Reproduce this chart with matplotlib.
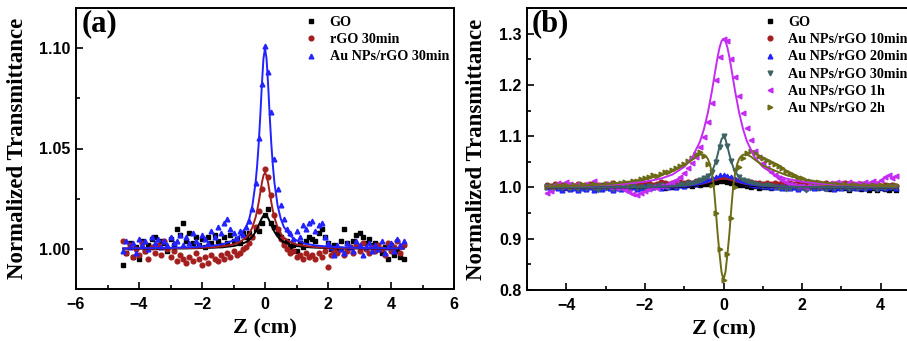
import numpy as np
import matplotlib
matplotlib.use("Agg")
import matplotlib.pyplot as plt
from matplotlib.ticker import MultipleLocator, FormatStrFormatter

# ---------------- data ----------------
# scan positions (cm), regular 0.1 cm steps from -4.5 to 4.4
z = np.round(np.arange(-4.5, 4.45, 0.1), 2)

# panel (a) measured points
a_go = [0.992, 0.998, 1.003, 0.996, 1.001, 0.995, 1.004, 0.999, 1.002, 1.005,
        1.006, 1.001, 1.004, 1.003, 0.999, 1.005, 1.002, 1.010, 1.007, 1.013,
        1.004, 1.008, 1.003, 1.006, 1.002, 1.005, 1.001, 1.006, 1.003, 1.007,
        1.004, 1.002, 1.006, 1.003, 1.007, 1.004, 1.005, 1.003, 1.008, 1.006,
        1.008, 1.006, 1.010, 1.009, 1.013, 1.017, 1.020, 1.013, 1.011, 1.008,
        1.006, 1.003, 1.004, 1.001, 1.002, 0.999, 1.003, 1.001, 1.004, 1.006,
        1.005, 1.004, 1.008, 1.010, 1.006, 1.003, 1.000, 1.002, 0.999, 1.004,
        1.010, 1.003, 1.001, 1.004, 1.007, 1.008, 1.006, 1.003, 1.005, 1.002,
        1.003, 1.000, 0.998, 1.001, 0.995, 1.002, 0.997, 0.999, 0.996, 0.995]
a_rgo = [1.004, 0.998, 1.002, 0.996, 1.000, 0.997, 1.003, 0.999, 0.995, 1.001,
         0.998, 1.002, 0.997, 1.004, 1.000, 0.996, 0.999, 0.994, 0.997, 0.995,
         0.993, 0.996, 0.994, 0.998, 0.995, 0.992, 0.996, 0.993, 0.997, 0.995,
         0.994, 0.997, 0.995, 0.998, 0.996, 0.999, 0.997, 0.998, 1.000, 1.001,
         1.003, 1.006, 1.011, 1.019, 1.030, 1.040, 1.036, 1.027, 1.017, 1.010,
         1.005, 1.002, 1.000, 0.998, 0.999, 0.996, 0.997, 0.995, 0.998, 0.996,
         0.997, 0.995, 0.998, 0.996, 0.999, 0.991, 0.997, 0.999, 0.998, 1.000,
         0.997, 0.999, 1.001, 0.998, 1.002, 0.999, 1.003, 1.000, 0.998, 1.001,
         0.999, 1.002, 1.000, 0.997, 1.003, 0.999, 1.001, 1.004, 0.998, 1.002]
a_au = [0.999, 1.004, 1.001, 1.003, 0.998, 1.005, 1.002, 1.004, 1.000, 1.006,
        1.003, 1.005, 1.001, 1.004, 1.002, 1.006, 1.003, 1.004, 1.007, 1.002,
        1.006, 1.003, 1.008, 1.004, 1.002, 1.007, 1.005, 1.003, 1.009, 1.006,
        1.011, 1.008, 1.013, 1.015, 1.010, 1.008, 1.005, 1.009, 1.007, 1.011,
        1.014, 1.020, 1.033, 1.055, 1.082, 1.101, 1.088, 1.068, 1.045, 1.030,
        1.022, 1.015, 1.010, 1.008, 1.005, 1.009, 1.006, 1.012, 1.010, 1.013,
        1.014, 1.009, 1.012, 1.013, 1.006, 1.003, 1.001, 0.997, 1.002, 1.000,
        0.998, 1.003, 1.001, 0.999, 1.004, 1.002, 0.997, 1.001, 1.003, 0.999,
        1.002, 1.000, 1.004, 0.998, 1.001, 1.003, 0.999, 1.005, 1.002, 1.004]

# fit curves
fz = [-4.5, -4, -3.5, -3, -2.5, -2, -1.6, -1.3, -1, -0.8, -0.6, -0.5, -0.4, -0.3,
      -0.25, -0.2, -0.15, -0.1, -0.05, 0, 0.05, 0.1, 0.15, 0.2, 0.25, 0.3, 0.4,
      0.5, 0.6, 0.8, 1, 1.3, 1.6, 2, 2.5, 3, 3.5, 4, 4.4]
fa_go = [1.0001, 1.0001, 1.0001, 1.0002, 1.0002, 1.0004, 1.0006, 1.0009, 1.0014, 1.0021,
         1.0034, 1.0045, 1.0061, 1.0085, 1.0100, 1.0118, 1.0136, 1.0153, 1.0165, 1.0170,
         1.0165, 1.0153, 1.0136, 1.0118, 1.0100, 1.0085, 1.0061, 1.0045, 1.0034, 1.0021,
         1.0014, 1.0009, 1.0006, 1.0004, 1.0002, 1.0002, 1.0001, 1.0001, 1.0001]
fa_rgo = [1.0002, 1.0002, 1.0002, 1.0003, 1.0004, 1.0006, 1.0009, 1.0014, 1.0022, 1.0034,
          1.0056, 1.0076, 1.0107, 1.0156, 1.0190, 1.0232, 1.0279, 1.0328, 1.0365, 1.0380,
          1.0365, 1.0328, 1.0279, 1.0232, 1.0190, 1.0156, 1.0107, 1.0076, 1.0056, 1.0034,
          1.0022, 1.0014, 1.0009, 1.0006, 1.0004, 1.0003, 1.0002, 1.0002, 1.0002]
fa_au = [1.0002, 1.0003, 1.0004, 1.0005, 1.0007, 1.0011, 1.0017, 1.0025, 1.0042, 1.0065,
         1.0109, 1.0150, 1.0216, 1.0329, 1.0414, 1.0524, 1.0662, 1.0815, 1.0946, 1.1000,
         1.0946, 1.0815, 1.0662, 1.0524, 1.0414, 1.0329, 1.0216, 1.0150, 1.0109, 1.0065,
         1.0042, 1.0025, 1.0017, 1.0011, 1.0007, 1.0005, 1.0004, 1.0003, 1.0002]

# panel (b) measured points
b_go = [1.003, 0.999, 1.002, 1.000, 1.004, 0.998, 1.001, 1.003, 0.999, 1.002,
        1.000, 1.004, 0.998, 1.002, 1.005, 1.001, 0.999, 1.003, 1.000, 1.006,
        1.002, 0.999, 1.004, 1.001, 1.003, 0.998, 1.002, 1.000, 1.004, 1.001,
        0.999, 1.003, 1.001, 1.000, 1.004, 1.002, 1.005, 1.003, 1.006, 1.004,
        1.007, 1.006, 1.009, 1.010, 1.012, 1.013, 1.011, 1.009, 1.007, 1.005,
        1.004, 1.003, 1.001, 1.002, 0.999, 1.001, 1.000, 0.998, 1.002, 1.000,
        1.001, 0.999, 1.002, 1.000, 0.998, 1.001, 0.999, 1.002, 1.000, 0.998,
        1.001, 0.999, 0.997, 1.000, 0.998, 1.001, 0.999, 0.996, 0.998, 1.000,
        0.997, 0.999, 0.995, 0.998, 0.996, 0.999, 0.997, 0.995, 0.998, 0.996]
b_10 = [1.005, 1.002, 1.006, 1.003, 1.004, 1.001, 1.005, 1.003, 1.006, 1.002,
        1.004, 1.007, 1.003, 1.005, 1.002, 1.006, 1.004, 1.008, 1.005, 1.003,
        1.006, 1.004, 1.007, 1.005, 1.009, 1.006, 1.008, 1.005, 1.007, 1.010,
        1.008, 1.006, 1.009, 1.007, 1.010, 1.008, 1.011, 1.009, 1.012, 1.010,
        1.013, 1.012, 1.015, 1.017, 1.019, 1.020, 1.018, 1.016, 1.014, 1.012,
        1.011, 1.009, 1.010, 1.008, 1.009, 1.007, 1.008, 1.006, 1.009, 1.007,
        1.008, 1.006, 1.009, 1.007, 1.010, 1.006, 1.008, 1.005, 1.007, 1.009,
        1.006, 1.008, 1.005, 1.007, 1.004, 1.006, 1.008, 1.005, 1.007, 1.004,
        1.006, 1.003, 1.005, 1.004, 1.006, 1.003, 1.005, 1.002, 1.004, 1.003]
b_20 = [1.000, 0.997, 1.001, 0.998, 0.996, 1.000, 0.997, 0.999, 0.995, 0.998,
        0.997, 1.000, 0.996, 0.999, 0.997, 1.001, 0.998, 0.996, 0.999, 0.997,
        1.000, 0.998, 1.001, 0.997, 0.999, 1.002, 0.998, 1.000, 1.003, 0.999,
        1.002, 1.000, 1.004, 1.001, 1.005, 1.003, 1.006, 1.008, 1.007, 1.010,
        1.012, 1.015, 1.018, 1.021, 1.024, 1.025, 1.023, 1.020, 1.017, 1.013,
        1.010, 1.008, 1.006, 1.004, 1.005, 1.002, 1.003, 1.001, 1.000, 1.002,
        0.999, 1.001, 0.998, 1.000, 0.997, 1.001, 0.999, 1.002, 0.998, 1.000,
        1.001, 0.998, 1.000, 0.997, 1.001, 0.999, 1.002, 0.998, 1.000, 0.999,
        1.001, 0.998, 1.000, 1.002, 0.999, 1.001, 0.998, 1.000, 1.002, 0.999]
b_30 = [1.002, 0.999, 1.003, 1.000, 0.998, 1.002, 0.999, 1.001, 0.997, 1.000,
        0.998, 1.002, 0.999, 0.996, 1.001, 0.998, 1.000, 0.997, 1.001, 0.999,
        1.000, 0.998, 1.002, 0.999, 1.001, 0.998, 1.003, 1.000, 1.002, 1.004,
        1.003, 1.001, 1.005, 1.003, 1.006, 1.004, 1.008, 1.007, 1.011, 1.014,
        1.018, 1.022, 1.030, 1.050, 1.078, 1.100, 1.080, 1.052, 1.032, 1.021,
        1.015, 1.012, 1.008, 1.006, 1.004, 1.003, 1.005, 1.002, 1.000, 0.998,
        1.001, 0.997, 0.999, 1.002, 0.998, 1.000, 0.996, 0.999, 1.001, 0.998,
        1.000, 0.997, 1.001, 0.999, 1.002, 0.998, 1.000, 0.997, 1.001, 0.999,
        1.001, 0.998, 1.002, 1.000, 0.997, 1.001, 0.999, 1.002, 1.000, 1.001]
b_1h = [0.989, 0.993, 1.004, 1.008, 1.003, 1.010, 1.006, 1.002, 1.007, 1.004,
        1.006, 1.003, 1.012, 1.005, 1.002, 1.006, 1.000, 1.004, 0.998, 1.001,
        0.996, 0.992, 0.988, 0.986, 0.990, 0.994, 0.997, 1.000, 0.998, 1.003,
        1.002, 1.006, 1.010, 1.015, 1.021, 1.028, 1.038, 1.047, 1.060, 1.078,
        1.098, 1.128, 1.165, 1.210, 1.255, 1.290, 1.285, 1.250, 1.215, 1.178,
        1.145, 1.115, 1.092, 1.072, 1.060, 1.048, 1.038, 1.030, 1.024, 1.018,
        1.014, 1.010, 1.007, 1.004, 1.002, 1.003, 1.001, 1.004, 1.006, 1.003,
        1.007, 1.005, 1.009, 1.006, 1.010, 1.008, 1.005, 1.011, 1.007, 1.009,
        1.006, 1.010, 1.008, 1.012, 1.009, 1.015, 1.020, 1.024, 1.018, 1.022]
b_2h = [1.001, 1.003, 1.000, 1.004, 1.002, 1.005, 1.001, 1.004, 1.003, 1.006,
        1.004, 1.002, 1.006, 1.005, 1.003, 1.007, 1.005, 1.008, 1.006, 1.009,
        1.011, 1.009, 1.013, 1.012, 1.016, 1.018, 1.020, 1.024, 1.022, 1.027,
        1.031, 1.030, 1.035, 1.038, 1.041, 1.045, 1.052, 1.058, 1.066, 1.070,
        1.062, 1.045, 1.005, 0.950, 0.880, 0.820, 0.870, 0.940, 1.000, 1.040,
        1.058, 1.067, 1.071, 1.068, 1.062, 1.057, 1.053, 1.049, 1.046, 1.042,
        1.038, 1.033, 1.029, 1.024, 1.021, 1.018, 1.015, 1.013, 1.011, 1.010,
        1.008, 1.007, 1.006, 1.005, 1.007, 1.004, 1.006, 1.003, 1.005, 1.004,
        1.003, 1.005, 1.002, 1.004, 1.003, 1.005, 1.002, 1.004, 1.003, 1.004]

fb_go = [1.0002, 1.0002, 1.0002, 1.0003, 1.0003, 1.0005, 1.0008, 1.0011, 1.0018, 1.0026,
         1.0040, 1.0051, 1.0065, 1.0083, 1.0094, 1.0104, 1.0114, 1.0122, 1.0128, 1.0130,
         1.0128, 1.0122, 1.0114, 1.0104, 1.0094, 1.0083, 1.0065, 1.0051, 1.0040, 1.0026,
         1.0018, 1.0011, 1.0008, 1.0005, 1.0003, 1.0003, 1.0002, 1.0002, 1.0002]
fb_10 = [1.0003, 1.0003, 1.0003, 1.0004, 1.0006, 1.0009, 1.0013, 1.0019, 1.0031, 1.0044,
         1.0065, 1.0080, 1.0100, 1.0125, 1.0137, 1.0150, 1.0162, 1.0171, 1.0177, 1.0180,
         1.0177, 1.0171, 1.0162, 1.0150, 1.0137, 1.0125, 1.0100, 1.0080, 1.0065, 1.0044,
         1.0031, 1.0019, 1.0013, 1.0009, 1.0006, 1.0004, 1.0003, 1.0003, 1.0003]
fb_20 = [1.0003, 1.0003, 1.0003, 1.0004, 1.0006, 1.0008, 1.0013, 1.0019, 1.0030, 1.0044,
         1.0068, 1.0086, 1.0110, 1.0141, 1.0158, 1.0176, 1.0193, 1.0207, 1.0217, 1.0220,
         1.0217, 1.0207, 1.0193, 1.0176, 1.0158, 1.0141, 1.0110, 1.0086, 1.0068, 1.0044,
         1.0030, 1.0019, 1.0013, 1.0008, 1.0006, 1.0004, 1.0003, 1.0003, 1.0003]
fb_30 = [1.0002, 1.0003, 1.0003, 1.0004, 1.0006, 1.0010, 1.0015, 1.0023, 1.0038, 1.0059,
         1.0100, 1.0138, 1.0200, 1.0308, 1.0390, 1.0500, 1.0640, 1.0800, 1.0941, 1.1000,
         1.0941, 1.0800, 1.0640, 1.0500, 1.0390, 1.0308, 1.0200, 1.0138, 1.0100, 1.0059,
         1.0038, 1.0023, 1.0015, 1.0010, 1.0006, 1.0004, 1.0003, 1.0003, 1.0002]
fb_1h = [1.0023, 1.0029, 1.0037, 1.0051, 1.0072, 1.0112, 1.0171, 1.0251, 1.0400, 1.0580,
         1.0892, 1.1132, 1.1450, 1.1856, 1.2086, 1.2320, 1.2542, 1.2730, 1.2855, 1.2900,
         1.2855, 1.2730, 1.2542, 1.2320, 1.2086, 1.1856, 1.1450, 1.1132, 1.0892, 1.0580,
         1.0400, 1.0251, 1.0171, 1.0112, 1.0072, 1.0051, 1.0037, 1.0029, 1.0024]
fz_2h = [-4.5, -4, -3.5, -3, -2.5, -2, -1.6, -1.3, -1, -0.8, -0.7, -0.6, -0.5, -0.45,
         -0.4, -0.35, -0.3, -0.25, -0.2, -0.15, -0.1, -0.05, 0, 0.05, 0.1, 0.15, 0.2,
         0.25, 0.3, 0.35, 0.4, 0.45, 0.5, 0.6, 0.7, 0.8, 1, 1.3, 1.6, 2, 2.5, 3, 3.5, 4, 4.4]
fb_2h = [1.002, 1.003, 1.004, 1.006, 1.010, 1.016, 1.024, 1.033, 1.043, 1.054, 1.060,
         1.064, 1.064, 1.061, 1.056, 1.046, 1.030, 1.005, 0.960, 0.910, 0.870, 0.835,
         0.820,
         0.835, 0.870, 0.910, 0.960, 1.005, 1.030, 1.046, 1.056, 1.061, 1.064, 1.064,
         1.060, 1.054, 1.043, 1.033, 1.024, 1.016, 1.010, 1.006, 1.004, 1.003, 1.002]

labels_a = ["GO", "rGO 30min", "Au NPs/rGO 30min"]
labels_b = ["GO", "Au NPs/rGO 10min", "Au NPs/rGO 20min", "Au NPs/rGO 30min",
            "Au NPs/rGO 1h", "Au NPs/rGO 2h"]

# ---------------- style ----------------
C_BLACK = "#000000"
C_RED = "#a41e1e"
C_BLUE = "#2222ff"
C_SLATE = "#3d6262"
C_MAG = "#c42cf2"
C_OLIVE = "#6c6c16"

SERIF = ["Liberation Serif", "DejaVu Serif"]
SANS = ["Liberation Sans", "DejaVu Sans"]

fig = plt.figure(figsize=(9.07, 3.41), dpi=100)
axa = fig.add_axes([76 / 907, 52 / 341, 378 / 907, 281 / 341])
axb = fig.add_axes([527 / 907, 51 / 341, 393 / 907, 282 / 341])


def style(ax):
    for s in ax.spines.values():
        s.set_linewidth(1.4)
    ax.tick_params(which="both", direction="in", top=False, right=False,
                   width=1.2, labelsize=11.5, pad=4)
    ax.tick_params(axis="x", which="both", pad=6)
    ax.tick_params(which="major", length=5)
    ax.tick_params(which="minor", length=3)
    for lab in ax.get_xticklabels() + ax.get_yticklabels():
        lab.set_family(SANS)
        lab.set_fontweight("bold")


ms = 3.4
# panel (a)
for vals, m, c, lab in [(a_go, "s", C_BLACK, labels_a[0]),
                        (a_rgo, "o", C_RED, labels_a[1]),
                        (a_au, "^", C_BLUE, labels_a[2])]:
    axa.plot(z, vals, ls="none", marker=m, ms=ms, color=c, mec=c, label=lab)
for fit, c in [(fa_go, C_BLACK), (fa_rgo, C_RED), (fa_au, C_BLUE)]:
    axa.plot(fz, fit, color=c, lw=1.4)

axa.set_xlim(-6, 6)
axa.set_ylim(0.98, 1.12)
axa.xaxis.set_major_locator(MultipleLocator(2))
axa.xaxis.set_minor_locator(MultipleLocator(1))
axa.yaxis.set_major_locator(MultipleLocator(0.05))
axa.yaxis.set_minor_locator(MultipleLocator(0.025))
axa.yaxis.set_major_formatter(FormatStrFormatter("%.2f"))

# panel (b)
for vals, m, c, lab in [(b_go, "s", C_BLACK, labels_b[0]),
                        (b_10, "o", C_RED, labels_b[1]),
                        (b_20, "^", C_BLUE, labels_b[2]),
                        (b_30, "v", C_SLATE, labels_b[3]),
                        (b_1h, "<", C_MAG, labels_b[4]),
                        (b_2h, ">", C_OLIVE, labels_b[5])]:
    axb.plot(z, vals, ls="none", marker=m, ms=ms, color=c, mec=c, label=lab)
for fx, fit, c in [(fz, fb_go, C_BLACK), (fz, fb_10, C_RED), (fz, fb_20, C_BLUE),
                   (fz, fb_30, C_SLATE), (fz, fb_1h, C_MAG), (fz_2h, fb_2h, C_OLIVE)]:
    axb.plot(fx, fit, color=c, lw=1.4)

axb.set_xlim(-5, 5)
axb.set_ylim(0.8, 1.35)
axb.xaxis.set_major_locator(MultipleLocator(2))
axb.xaxis.set_minor_locator(MultipleLocator(1))
axb.yaxis.set_major_locator(MultipleLocator(0.1))
axb.yaxis.set_minor_locator(MultipleLocator(0.05))
axb.yaxis.set_major_formatter(FormatStrFormatter("%.1f"))

for ax, tag, lx, ylc in [(axa, "(a)", 0.016, -0.127), (axb, "(b)", 0.013, -0.102)]:
    style(ax)
    ax.set_xlabel("Z (cm)", family=SERIF, fontweight="bold", fontsize=16)
    ax.xaxis.set_label_coords(0.5, -0.105)
    ax.set_ylabel("Normalized Transmittance", family=SERIF, fontweight="bold",
                  fontsize=16.5)
    ax.yaxis.set_label_coords(ylc, 0.5)
    ax.text(lx, 0.995, tag, transform=ax.transAxes, ha="left", va="top",
            family=SERIF, fontweight="bold", fontsize=22)

leg_kw = dict(frameon=False, handlelength=1.0, handletextpad=0.8, borderpad=0,
              borderaxespad=0, labelspacing=0.3, markerscale=1.0,
              prop=dict(family=SERIF, weight="bold", size=10.2))
axa.legend(loc="upper left", bbox_to_anchor=((304 - 76) / 378, 1 - 8 / 281), **leg_kw)
axb.legend(loc="upper left", bbox_to_anchor=((763 - 527) / 393, 1 - 8 / 282), **leg_kw)

fig.savefig("out.png", dpi=100)
